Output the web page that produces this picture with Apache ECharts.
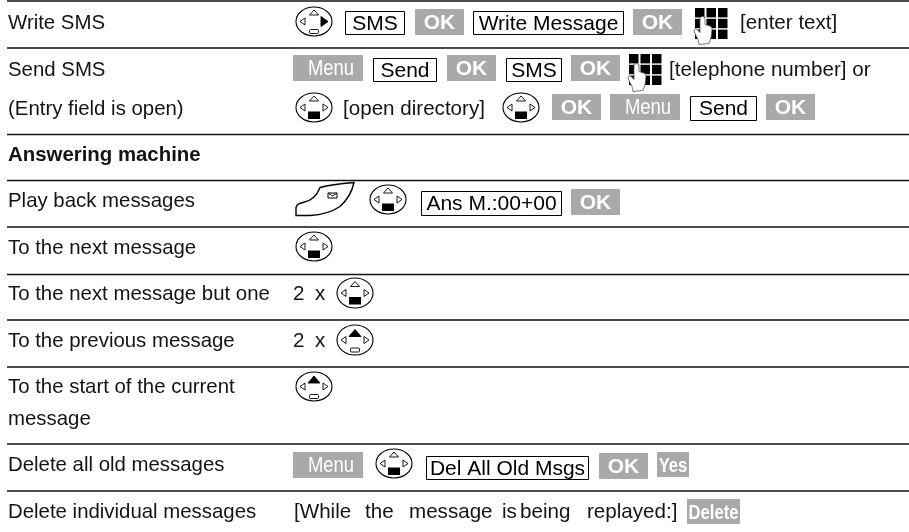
<!DOCTYPE html>
<html>
<head>
<meta charset="utf-8">
<style>
html, body { margin: 0; padding: 0; background: #fff; }
#chart { width: 909px; height: 532px; }
</style>
<script src="https://cdn.jsdelivr.net/npm/echarts@6/dist/echarts.min.js"></script>
</head>
<body>
<div id="chart"></div>
<script>
// left column
const rowLabels = ['Write SMS', 'Send SMS', '(Entry field is open)', 'Answering machine', 'Play back messages',
  'To the next message', 'To the next message but one', 'To the previous message', 'To the start of the current',
  'message', 'Delete all old messages', 'Delete individual messages']
const labelWeights = ['normal', 'normal', 'normal', 'bold', 'normal', 'normal', 'normal', 'normal', 'normal', 'normal', 'normal', 'normal']

// right column, one entry per key, icon or piece of text
const stepKinds = [
  'navRight', 'box', 'ok', 'box', 'ok', 'keypad', 'text',
  'menu', 'box', 'ok', 'box', 'ok', 'keypad', 'text',
  'navDown', 'text', 'navDown', 'ok', 'menu', 'box', 'ok',
  'handset', 'navDown', 'box', 'ok',
  'navDown',
  'text', 'text', 'navDown',
  'text', 'text', 'navUp',
  'navUp',
  'menu', 'navDown', 'box', 'ok', 'tag',
  'text', 'text', 'text', 'text', 'text', 'text', 'tag'
]
const stepTexts = [
  '', 'SMS', 'OK', 'Write Message', 'OK', '', '[enter text]',
  'Menu', 'Send', 'OK', 'SMS', 'OK', '', '[telephone number] or',
  '', '[open directory]', '', 'OK', 'Menu', 'Send', 'OK',
  '', '', 'Ans M.:00+00', 'OK',
  '',
  '2', 'x', '',
  '2', 'x', '',
  '',
  'Menu', '', 'Del All Old Msgs', 'OK', 'Yes',
  '[While', 'the', 'message', 'is', 'being', 'replayed:]', 'Delete'
]

// layout, kept apart from the content above
const ruleTops = [1, 48, 134.5, 180.5, 227, 274.5, 320, 367, 444, 491]
const labelBaselines = [30, 77, 116, 162, 208, 255, 301, 348, 394, 426, 472, 519]
const stepBoxes = [
  [296, 7, 36, 29], [345, 11, 60, 24], [415, 9, 49, 26], [473, 11, 151, 24], [633, 9, 49, 26], [694, 8, 33, 37], [740, 30],
  [293, 55, 70, 26], [373, 58, 64, 24], [447, 55, 49, 26], [506, 58, 56, 24], [571, 55, 49, 26], [628, 54, 33, 38], [669, 77],
  [296, 93, 36, 29], [343, 116], [503, 93, 36, 29], [552, 94, 49, 26], [610, 94, 70, 26], [690, 96, 67, 25], [766, 94, 49, 26],
  [296, 182, 58, 34], [370, 185, 36, 29], [421, 191, 141, 25], [571, 189, 49, 26],
  [296, 232, 36, 29],
  [293, 301], [315, 301], [337, 278, 36, 30],
  [293, 348], [315, 348], [337, 325, 36, 30],
  [296, 372, 36, 29],
  [293, 452, 70, 26], [376, 449, 36, 29], [426, 456, 163, 24], [599, 453, 49, 26], [657, 452, 32, 25],
  [294, 519], [365, 519], [409, 519], [502, 519], [520, 519], [587, 519], [687, 499, 53, 25]
]

const ink = '#141414'
const keyGrey = '#a9a9a9'
const bodyFont = '"Liberation Sans", Arial, sans-serif'

const label = (x, baseline, text, size, weight) => ({
  type: 'text',
  style: {
    x: x,
    y: baseline - size * 0.345,
    text: text,
    fill: ink,
    font: `${weight} ${size}px ${bodyFont}`,
    verticalAlign: 'middle'
  }
})

// squeeze < 1 stands in for the condensed face of the softkeys
const centred = (x, y, w, h, text, size, weight, fill, shift, squeeze) => ({
  type: 'text',
  x: x + w / 2,
  y: y + h / 2 + shift,
  scaleX: squeeze,
  style: {
    x: 0,
    y: 0,
    text: text,
    fill: fill,
    align: 'center',
    verticalAlign: 'middle',
    font: `${weight} ${size}px ${bodyFont}`
  }
})

const softKey = (x, y, w, h, text, size, weight, shift, squeeze, nudge) => [
  { type: 'rect', shape: { x: x, y: y, width: w, height: h }, style: { fill: keyGrey } },
  centred(x + (nudge || 0), y, w, h, text, size, weight, '#fff', shift, squeeze)
]

const triangle = (points, filled) => ({
  type: 'polygon',
  shape: { points: points },
  style: { fill: filled ? '#000' : '#fff', stroke: '#000', lineWidth: 0.9 }
})

// 5 way key, the filled part says which way to press
const navKey = (x, y, w, h, kind) => {
  const cx = x + w / 2
  const cy = y + h / 2
  const up = kind === 'navUp'
  const els = [{
    type: 'ellipse',
    shape: { cx: cx, cy: cy, rx: w / 2, ry: h / 2 },
    style: { fill: '#fff', stroke: '#000', lineWidth: 1.1 }
  }]
  els.push(up
    ? triangle([[cx, cy - 10.5], [cx - 6, cy - 3.5], [cx + 6, cy - 3.5]], true)
    : triangle([[cx, cy - 11.5], [cx - 4.5, cy - 6.5], [cx + 4.5, cy - 6.5]], false))
  els.push(triangle([[cx - 14, cy], [cx - 9, cy - 3.5], [cx - 9, cy + 3.5]], false))
  els.push(kind === 'navRight'
    ? triangle([[cx + 14, cy], [cx + 7, cy - 5], [cx + 7, cy + 5]], true)
    : triangle([[cx + 14, cy], [cx + 9, cy - 3.5], [cx + 9, cy + 3.5]], false))
  els.push(kind === 'navDown'
    ? { type: 'rect', shape: { x: cx - 6, y: cy + 4, width: 12, height: 7.5 }, style: { fill: '#000' } }
    : { type: 'rect', shape: { x: cx - 4.5, y: cy + 8, width: 9, height: 4, r: 1 }, style: { fill: '#fff', stroke: '#000', lineWidth: 0.9 } })
  return els
}

const keypad = (x, y, w, h) => {
  const els = []
  for (let r = 0; r < 3; r++) {
    for (let c = 0; c < 3; c++) {
      els.push({ type: 'rect', shape: { x: x + 1 + c * 11.5, y: y + r * 10.8, width: 9.5, height: 9.4 }, style: { fill: '#000' } })
    }
  }
  els.push({
    type: 'path',
    shape: {
      pathData: 'M6,2 Q8.5,0 11,2 L11,9 L17,11 Q18,12 18,14 L17,22 L15,28 L5,29 L4,24 L0,16 Q0,13 2,13 L6,17 Z',
      x: x, y: y + h - 29, width: 18, height: 29
    },
    style: { fill: '#fff', stroke: '#555', lineWidth: 0.8 }
  })
  return els
}

const handset = (x, y, w, h) => [
  {
    type: 'path',
    shape: {
      pathData: 'M0,33 L0,25 Q1,21 7,20 Q19,18 24,5 Q35,2 58,0 Q55,14 44,24 Q32,32 14,33 Z',
      x: x, y: y, width: w, height: h
    },
    style: { fill: '#fff', stroke: '#000', lineWidth: 1.4 }
  },
  { type: 'rect', shape: { x: x + 32, y: y + 11, width: 9, height: 5 }, style: { fill: '#fff', stroke: '#000', lineWidth: 1 } },
  { type: 'polyline', shape: { points: [[x + 32, y + 11], [x + 36.5, y + 14], [x + 41, y + 11]] }, style: { fill: null, stroke: '#000', lineWidth: 1 } }
]

const drawStep = (params, api) => {
  const i = api.value(0)
  const kind = stepKinds[i]
  const text = stepTexts[i]
  const box = stepBoxes[i]
  const [x, y] = api.coord([box[0], box[1]])
  let children = []
  if (kind === 'text') {
    children = [label(x, y, text, 20.6, 'normal')]
  } else {
    const [w, h] = api.size([box[2], box[3]])
    if (kind === 'box') {
      children = [
        { type: 'rect', shape: { x: x + 0.5, y: y + 0.5, width: w - 1, height: h - 1 }, style: { fill: '#fff', stroke: '#000', lineWidth: 1 } },
        centred(x, y, w, h, text, 21, 'normal', '#000', 1, 1)
      ]
    } else if (kind === 'ok') {
      children = softKey(x, y, w, h, text, 21, 'bold', 1.5, 1)
    } else if (kind === 'menu') {
      children = softKey(x, y, w, h, text, 22, 'normal', 1, 0.84, 3)
    } else if (kind === 'tag') {
      children = softKey(x, y, w, h, text, 20, 'bold', 1.5, 0.83)
    } else if (kind === 'keypad') {
      children = keypad(x, y, w, h)
    } else if (kind === 'handset') {
      children = handset(x, y, w, h)
    } else {
      children = navKey(x, y, w, h, kind)
    }
  }
  return { type: 'group', children: children }
}

const chart = echarts.init(document.getElementById('chart'), null, { renderer: 'canvas' })
chart.setOption({
  animation: false,
  backgroundColor: '#fff',
  grid: { left: 0, right: 0, top: 0, bottom: 0 },
  xAxis: { type: 'value', min: 0, max: 909, show: false },
  yAxis: { type: 'value', min: 0, max: 532, inverse: true, show: false },
  series: [
    {
      type: 'custom',
      silent: true,
      clip: false,
      data: ruleTops.map((y) => [y]),
      renderItem: (params, api) => {
        const a = api.coord([7, api.value(0)])
        const b = api.coord([909, api.value(0)])
        return {
          type: 'line',
          shape: { x1: a[0], y1: a[1], x2: b[0], y2: b[1] },
          style: { stroke: '#111', lineWidth: 1.4 }
        }
      }
    },
    {
      type: 'custom',
      silent: true,
      clip: false,
      data: rowLabels.map((name, i) => [i]),
      renderItem: (params, api) => {
        const i = api.value(0)
        const p = api.coord([8, labelBaselines[i]])
        return label(p[0], p[1], rowLabels[i], 20.4, labelWeights[i])
      }
    },
    {
      type: 'custom',
      silent: true,
      clip: false,
      data: stepKinds.map((kind, i) => [i]),
      renderItem: drawStep
    }
  ]
})
</script>
</body>
</html>
